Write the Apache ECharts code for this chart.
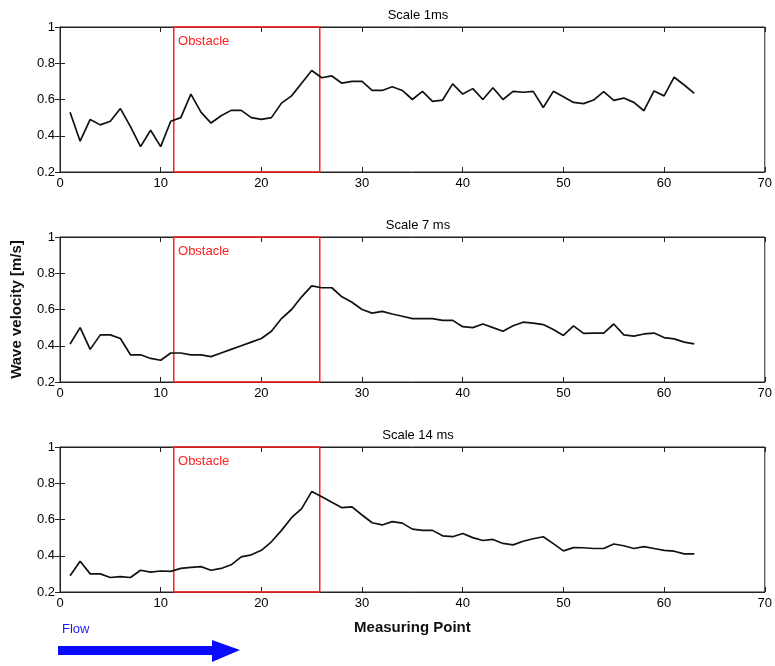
<!DOCTYPE html>
<html><head><meta charset="utf-8">
<script src="https://cdn.jsdelivr.net/npm/echarts@6/dist/echarts.min.js"></script>
<style>html,body{margin:0;padding:0;background:#fff}#c{width:775px;height:666px}</style>
</head><body><div id="c"></div>
<script>
const points = [1,2,3,4,5,6,7,8,9,10,11,12,13,14,15,16,17,18,19,20,21,22,23,24,25,26,27,28,29,30,31,32,33,34,35,36,37,38,39,40,41,42,43,44,45,46,47,48,49,50,51,52,53,54,55,56,57,58,59,60,61,62,63];
const scale1 = [0.53,0.37,0.49,0.46,0.48,0.55,0.45,0.34,0.43,0.34,0.48,0.50,0.63,0.53,0.47,0.51,0.54,0.54,0.50,0.49,0.50,0.58,0.62,0.69,0.76,0.72,0.73,0.69,0.70,0.70,0.65,0.65,0.67,0.65,0.60,0.645,0.59,0.597,0.686,0.63,0.66,0.60,0.665,0.60,0.645,0.64,0.645,0.556,0.645,0.615,0.584,0.577,0.597,0.643,0.595,0.608,0.584,0.538,0.647,0.62,0.723,0.68,0.634];
const scale7 = [0.41,0.50,0.38,0.46,0.46,0.44,0.35,0.35,0.33,0.32,0.36,0.36,0.35,0.35,0.34,0.36,0.38,0.40,0.42,0.44,0.48,0.55,0.60,0.67,0.73,0.72,0.72,0.67,0.64,0.60,0.58,0.59,0.575,0.563,0.55,0.55,0.55,0.54,0.54,0.505,0.50,0.52,0.50,0.48,0.51,0.53,0.525,0.517,0.49,0.457,0.51,0.468,0.47,0.47,0.52,0.46,0.453,0.465,0.47,0.445,0.438,0.42,0.41];
const scale14 = [0.29,0.37,0.30,0.30,0.28,0.285,0.28,0.32,0.31,0.316,0.314,0.33,0.336,0.34,0.32,0.33,0.35,0.394,0.405,0.43,0.477,0.54,0.61,0.66,0.754,0.726,0.695,0.665,0.67,0.625,0.582,0.57,0.588,0.58,0.547,0.54,0.54,0.51,0.505,0.523,0.50,0.484,0.49,0.468,0.46,0.48,0.494,0.505,0.467,0.427,0.445,0.444,0.44,0.44,0.465,0.455,0.44,0.45,0.44,0.43,0.425,0.41,0.41];
const titles = ['Scale 1ms','Scale 7 ms','Scale 14 ms'];
const xTicks = [0,10,20,30,40,50,60,70];
const yTicks = [0.2,0.4,0.6,0.8,1];
const obstacle = [11.3, 25.8];
const obstacleLabel = 'Obstacle';
const seriesData = [scale1, scale7, scale14];

const chart = echarts.init(document.getElementById('c'));
const tops = [27, 237, 447];
const H = 145;
const font = 'Liberation Sans, Arial, sans-serif';
const grids = [], xAxes = [], yAxes = [], series = [], titleArr = [];
tops.forEach((t, i) => {
  grids.push({left: 60, right: 8, top: t, height: H, show: true, borderColor: '#222', borderWidth: 1, backgroundColor: 'transparent'});
  const baseX = {gridIndex: i, type: 'value', min: xTicks[0], max: xTicks[xTicks.length-1], interval: 10,
    splitLine: {show: false}, axisLine: {show: true, lineStyle: {color: '#222'}},
    axisTick: {inside: true, length: 5, lineStyle: {color: '#222'}}};
  xAxes.push(Object.assign({}, baseX, {position: 'bottom',
    axisLabel: {color: '#000', fontSize: 13, fontFamily: font, margin: 5},
    name: i === 2 ? 'Measuring Point' : '', nameLocation: 'middle', nameGap: 28,
    nameTextStyle: {color: '#111', fontSize: 15, fontWeight: 'bold', fontFamily: font}}));
  xAxes.push(Object.assign({}, baseX, {position: 'top', axisLabel: {show: false}}));
  const baseY = {gridIndex: i, type: 'value', min: yTicks[0], max: yTicks[yTicks.length-1], interval: 0.2,
    splitLine: {show: false}, axisLine: {show: true, lineStyle: {color: '#222'}},
    axisTick: {inside: true, length: 5, lineStyle: {color: '#222'}}};
  yAxes.push(Object.assign({}, baseY, {position: 'left',
    axisLabel: {color: '#000', fontSize: 13, fontFamily: font, margin: 5,
      formatter: v => String(Math.round(v*10)/10)},
    name: i === 1 ? 'Wave velocity [m/s]' : '', nameLocation: 'middle', nameGap: 36,
    nameTextStyle: {color: '#111', fontSize: 15, fontWeight: 'bold', fontFamily: font}}));
  yAxes.push(Object.assign({}, baseY, {position: 'right', axisLabel: {show: false}}));
  titleArr.push({text: titles[i], left: 413, top: t - 23, textAlign: 'center',
    textStyle: {fontSize: 13, fontWeight: 'normal', color: '#000', fontFamily: font}});
  series.push({type: 'line', xAxisIndex: i*2, yAxisIndex: i*2,
    data: points.map((p, k) => [p, seriesData[i][k]]),
    showSymbol: false, lineStyle: {color: '#111', width: 1.7}, silent: true, animation: false,
    markArea: {silent: true,
      itemStyle: {color: 'rgba(0,0,0,0)', borderColor: '#ff2020', borderWidth: 1.5},
      label: {show: true, position: 'insideTopLeft', color: '#ff2020', fontSize: 13, fontFamily: font,
        formatter: obstacleLabel, offset: [0, 4]},
      data: [[{xAxis: obstacle[0], yAxis: yTicks[yTicks.length-1]}, {xAxis: obstacle[1], yAxis: yTicks[0]}]]}});
});

chart.setOption({
  animation: false,
  title: titleArr,
  grid: grids, xAxis: xAxes, yAxis: yAxes, series: series,
  graphic: [
    {type: 'text', left: 62, top: 623, style: {text: 'Flow', fill: '#1a1aff', fontSize: 13, fontFamily: font}},
    {type: 'polygon', shape: {points: [[58,646],[212,646],[212,640],[240,650],[212,662],[212,655],[58,655]]},
      style: {fill: '#0a0aff'}}
  ]
});
</script></body></html>
